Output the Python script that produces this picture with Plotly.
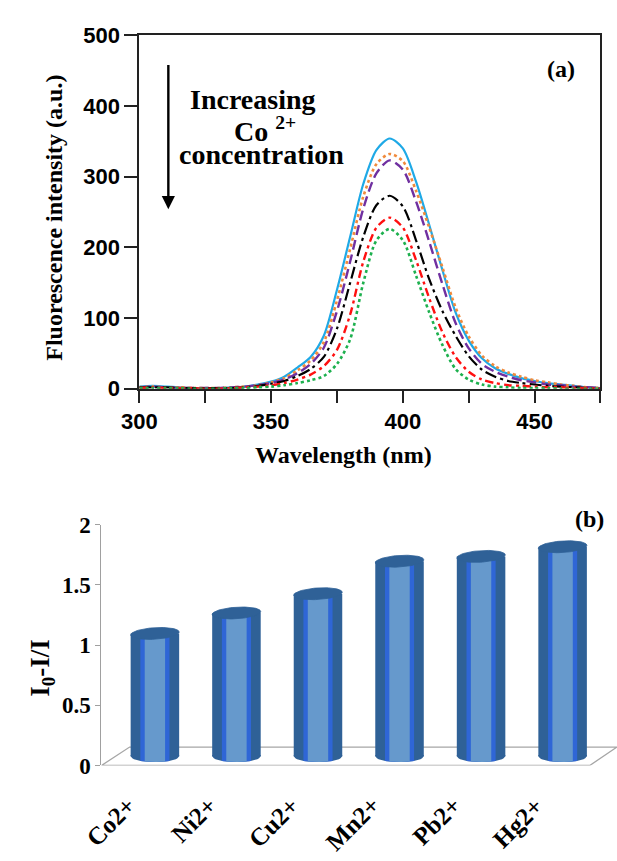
import numpy as np
import plotly.graph_objects as go

# ---------------- data: panel (a) ----------------
wavelength = [300, 305, 310, 315, 320, 325, 330, 335, 340, 345, 350, 355,
              360, 365, 370, 375, 380, 385, 390, 395, 400, 405, 410, 415,
              420, 425, 430, 435, 440, 445, 450, 455, 460, 465, 470, 475]
cyan_solid = [3, 4, 3, 2, 1, 1, 1, 2, 3, 6, 10, 17, 30, 45, 75, 140, 215, 290,
              338, 354, 340, 293, 232, 168, 108, 68, 43, 29, 21, 15, 11, 8, 6, 4, 2, 1]
orange_dot = [2, 3, 2, 2, 1, 1, 1, 2, 3, 5, 9, 15, 26, 40, 66, 125, 198, 272,
              318, 332, 322, 280, 228, 172, 115, 74, 47, 32, 23, 17, 12, 9, 6, 4, 2, 1]
purple_dash = [2, 3, 2, 1, 1, 1, 1, 2, 3, 5, 8, 13, 22, 35, 58, 110, 180, 255,
               305, 323, 310, 265, 208, 148, 93, 57, 35, 24, 17, 12, 9, 6, 5, 3, 2, 1]
black_dashdot = [2, 2, 2, 1, 1, 1, 1, 1, 2, 4, 7, 11, 18, 28, 45, 85, 150, 215,
                 260, 273, 258, 210, 155, 110, 75, 46, 27, 17, 11, 8, 6, 4, 3, 2, 1, 0]
red_dashdot = [1, 2, 1, 1, 1, 0, 0, 1, 2, 3, 5, 8, 13, 20, 32, 55, 105, 180,
               228, 242, 228, 182, 128, 80, 45, 24, 13, 8, 5, 4, 3, 2, 2, 1, 1, 0]
green_dot = [1, 1, 1, 1, 0, 0, 0, 1, 1, 2, 3, 5, 8, 12, 18, 35, 70, 150,
             210, 226, 210, 160, 108, 62, 28, 13, 6, 3, 2, 1, 1, 1, 0, 0, 0, 0]

x_tickvals = [300, 350, 400, 450]
x_ticktext = ["300", "350", "400", "450"]
y_tickvals = [0, 100, 200, 300, 400, 500]

# ---------------- data: panel (b) ----------------
ions = ["Co2+", "Ni2+", "Cu2+", "Mn2+", "Pb2+", "Hg2+"]
quench = [1.02, 1.19, 1.35, 1.62, 1.66, 1.74]
b_tickvals = [0, 0.5, 1, 1.5, 2]
b_ticktext = ["0", "0.5", "1", "1.5", "2"]

# ---------------- style ----------------
W, H = 617, 861
SANS = "Liberation Sans"
SERIF = "Liberation Serif"

DARK = "#2F6197"
STRIPE = "#2F66D6"
LIGHT = "#6699CC"
BAR_W = 0.595
STRIPE_W = 0.357
LIGHT_W = 0.25
FLOOR_D = 0.153          # floor depth in y units (3D look)
BASE = FLOOR_D / 2       # bars stand in the middle of the floor
CAP_B = 0.048
SHEAR = 0.041
LABEL_DX = -0.14         # category labels sit at the front edge of the floor

fig = go.Figure()

series = [
    (cyan_solid, "#1FA9E6", "solid", 2.2),
    (orange_dot, "#F08A3C", "dot", 2.6),
    (purple_dash, "#7030A0", "10px,5px", 2.4),
    (black_dashdot, "#000000", "12px,4px,3px,4px", 2.2),
    (red_dashdot, "#FF1010", "8px,4px,3px,4px", 2.4),
    (green_dot, "#1DB04E", "dot", 2.6),
]
for vals, col, dash, lw in series:
    fig.add_trace(go.Scatter(
        x=wavelength, y=vals, mode="lines",
        line=dict(color=col, dash=dash, width=lw, shape="spline", smoothing=0.8),
        xaxis="x", yaxis="y", hoverinfo="skip", showlegend=False))

# ---------------- panel (b): cylinders ----------------
idx = list(range(len(ions)))
for width, col in [(BAR_W, DARK), (STRIPE_W, STRIPE), (LIGHT_W, LIGHT)]:
    fig.add_trace(go.Bar(
        x=idx, y=quench, base=[BASE] * len(ions), width=width,
        marker=dict(color=col, line=dict(width=0)),
        xaxis="x2", yaxis="y2", hoverinfo="skip", showlegend=False))

A = BAR_W / 2
for width, col in [(BAR_W, DARK), (STRIPE_W, STRIPE), (LIGHT_W, LIGHT)]:
    bx, by = [], []
    hw = width / 2
    for i in idx:
        xs = np.linspace(-hw, hw, 30)
        ys = BASE - CAP_B * np.sqrt(np.clip(1 - (xs / A) ** 2, 0, 1))
        bx += list(i + xs) + [i + hw, i - hw, None]
        by += list(ys) + [BASE + 0.01, BASE + 0.01, None]
    fig.add_trace(go.Scatter(
        x=bx, y=by, mode="lines", fill="toself", fillcolor=col,
        line=dict(width=0, color=col), xaxis="x2", yaxis="y2",
        hoverinfo="skip", showlegend=False))

t = np.linspace(0, 2 * np.pi, 80)
cx, cy = [], []
for i, v in zip(idx, quench):
    cx += list(i + A * np.cos(t)) + [None]
    cy += list(BASE + v + CAP_B * np.sin(t) + SHEAR * A * np.cos(t)) + [None]
fig.add_trace(go.Scatter(
    x=cx, y=cy, mode="lines", fill="toself", fillcolor=DARK,
    line=dict(width=0.8, color=DARK), xaxis="x2", yaxis="y2",
    hoverinfo="skip", showlegend=False))

x2_lo, x2_hi = -0.655, 5.667
floor_path = (f"M {x2_lo},0 L {x2_hi - 0.334},0 L {x2_hi},{FLOOR_D} "
              f"L {x2_lo + 0.345},{FLOOR_D} Z")
fig.add_shape(type="path", path=floor_path, xref="x2", yref="y2",
              line=dict(color="#A6A6A6", width=1.3), fillcolor="white",
              layer="below")

# ---------------- axes ----------------
tick_font_a = dict(family=SANS, size=22, color="black", weight="bold")
fig.update_layout(
    width=W, height=H,
    margin=dict(l=0, r=0, t=0, b=0),
    paper_bgcolor="white", plot_bgcolor="white",
    showlegend=False, hovermode=False,
    barmode="overlay",
    xaxis=dict(domain=[125 / W, 600 / W], range=[300, 475],
               tickvals=x_tickvals, ticktext=x_ticktext,
               ticks="outside", ticklen=12, tickwidth=1.8, tickcolor="#222",
               minor=dict(dtick=25, tick0=300, ticks="outside", ticklen=12,
                          tickwidth=1.8, tickcolor="#222", showgrid=False),
               showline=True, linecolor="#222", linewidth=2, mirror=True,
               showgrid=False, zeroline=False, tickfont=tick_font_a,
               anchor="y"),
    yaxis=dict(domain=[1 - 388 / H, 1 - 24 / H], range=[0, 500],
               tickvals=y_tickvals,
               ticks="outside", ticklen=13, tickwidth=1.8, tickcolor="#222",
               showline=True, linecolor="#222", linewidth=2, mirror=True,
               showgrid=False, zeroline=False, tickfont=tick_font_a,
               anchor="x"),
    xaxis2=dict(domain=[86 / W, 1.0], range=[x2_lo, x2_hi],
                showticklabels=False, ticks="",
                showline=False, showgrid=False, zeroline=False,
                anchor="y2"),
    yaxis2=dict(domain=[1 - 776 / H, 1 - 528 / H], range=[0, 2],
                tickvals=b_tickvals, ticktext=b_ticktext,
                ticks="outside", ticklen=5, tickwidth=1.2, tickcolor="#A0A0A0",
                showline=True, linecolor="#A0A0A0", linewidth=1.3,
                showgrid=False, zeroline=False,
                tickfont=dict(family=SERIF, size=23, color="black", weight="bold"),
                anchor="x2"),
)

def label(text, x, y, size, angle=0, anchor="center"):
    fig.add_annotation(text=text, x=x / W, y=1 - y / H, xref="paper", yref="paper",
                       showarrow=False, textangle=angle, xanchor=anchor,
                       yanchor="middle",
                       font=dict(family=SERIF, size=size, color="black", weight="bold"))

label("Fluorescence intensity (a.u.)", 37, 212, 24, angle=-90)
label("Wavelength (nm)", 335, 456, 24)
label("(a)", 559, 59, 24)
label("Increasing", 242, 90, 28)
label("Co <sup>2+</sup>", 254, 121, 28)
label("concentration", 251, 147, 28)
label("I<sub>0</sub>-I/I", 25, 676, 27, angle=-90)
label("(b)", 589, 522, 24)

# category labels of panel (b), rotated, ending at the front edge of the floor
for i, name in zip(idx, ions):
    fig.add_annotation(text=name, x=i + LABEL_DX, y=1 - 800 / H,
                       xref="x2", yref="paper", showarrow=False,
                       textangle=-45, xanchor="right", yanchor="top",
                       font=dict(family=SERIF, size=25, color="black", weight="bold"))

fig.add_annotation(x=311, y=254, ax=311, ay=460, xref="x", yref="y",
                   axref="x", ayref="y", text="", showarrow=True,
                   arrowhead=2, arrowsize=1.1, arrowwidth=2.4,
                   arrowcolor="black", standoff=0, startstandoff=0)

fig.write_html("out.html")
